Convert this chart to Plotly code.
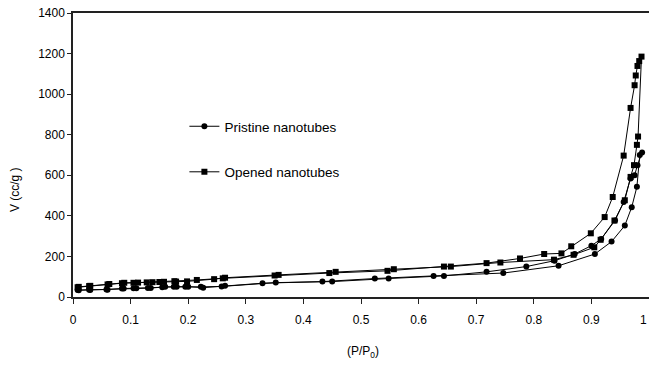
import plotly.graph_objects as go

# Opened nanotubes (squares): adsorption then desorption
opened_p = [0.010, 0.030, 0.063, 0.089, 0.113, 0.138, 0.158, 0.179, 0.198, 0.245, 0.264, 0.357,
            0.456, 0.557, 0.656, 0.742, 0.835, 0.869, 0.905, 0.916, 0.940, 0.958, 0.968, 0.974,
            0.979, 0.981, 0.987,
            0.983, 0.980, 0.977, 0.975, 0.968, 0.956, 0.937, 0.923, 0.899, 0.865, 0.848, 0.818,
            0.776, 0.718, 0.644, 0.546, 0.445, 0.350, 0.260, 0.215, 0.176, 0.150, 0.128, 0.105,
            0.085, 0.060, 0.028, 0.008]
opened_v = [50, 55, 64, 70, 71, 73, 75, 76, 77, 88, 95, 109,
            124, 137, 150, 170, 184, 208, 245, 282, 377, 477, 592, 650,
            750, 791, 1185,
            1163, 1139, 1092, 1044, 932, 697, 493, 394, 314, 250, 215, 212,
            190, 167, 150, 129, 118, 106, 92, 84, 78, 74, 72, 70,
            68, 62, 54, 48]

# Pristine nanotubes (circles): adsorption then desorption
pristine_p = [0.010, 0.030, 0.060, 0.088, 0.110, 0.135, 0.160, 0.180, 0.200, 0.226, 0.264, 0.329,
              0.433, 0.524, 0.626, 0.747, 0.843, 0.906, 0.935, 0.958, 0.970, 0.979, 0.984, 0.988,
              0.980, 0.975, 0.968, 0.956, 0.941, 0.917, 0.900, 0.871, 0.836, 0.787, 0.718, 0.644,
              0.548, 0.450, 0.352, 0.258, 0.222, 0.195, 0.175, 0.155, 0.130, 0.105, 0.085, 0.058,
              0.028, 0.008]
pristine_v = [33, 35, 36, 42, 43, 44, 50, 51, 51, 46, 55, 68,
              76, 91, 104, 118, 154, 212, 273, 352, 443, 543, 700, 712,
              650, 600, 584, 468, 377, 286, 253, 212, 179, 150, 124, 104,
              91, 76, 71, 52, 50, 51, 50, 48, 44, 43, 42, 37,
              36, 34]

x_ticks = [0, 0.1, 0.2, 0.3, 0.4, 0.5, 0.6, 0.7, 0.8, 0.9, 1]
x_ticklabels = ["0", "0.1", "0.2", "0.3", "0.4", "0.5", "0.6", "0.7", "0.8", "0.9", "1"]
y_ticks = [0, 200, 400, 600, 800, 1000, 1200, 1400]

FONT = "Liberation Sans, Arial, sans-serif"

fig = go.Figure()
fig.add_trace(go.Scatter(
    x=pristine_p, y=pristine_v, mode="lines+markers", name="Pristine nanotubes",
    line=dict(color="black", width=1),
    marker=dict(symbol="circle", size=6, color="black"),
    legendgroup="a",
))
fig.add_trace(go.Scatter(
    x=opened_p, y=opened_v, mode="lines+markers", name="Opened nanotubes",
    line=dict(color="black", width=1),
    marker=dict(symbol="square", size=6, color="black"),
    legendgroup="b",
))

# last tick label drawn separately so it is not dropped at the page edge
shown_ticktext = x_ticklabels[:-1] + [""]

fig.update_layout(
    width=649, height=377,
    margin=dict(l=73, r=0, t=13, b=80),
    paper_bgcolor="white", plot_bgcolor="white",
    font=dict(family=FONT, size=12, color="black"),
    showlegend=True,
    legend=dict(x=0.1934, y=0.655, xanchor="left", yanchor="top",
                bgcolor="rgba(0,0,0,0)", font=dict(size=13.5, family=FONT),
                tracegroupgap=25, itemwidth=30),
    xaxis=dict(range=[0, 1], tickvals=x_ticks, ticktext=shown_ticktext,
               showgrid=False, zeroline=False,
               showline=True, linecolor="#222", linewidth=1.5, mirror=True,
               ticks="outside", ticklen=5, tickcolor="#222",
               ticklabelstandoff=6),
    yaxis=dict(range=[0, 1400], tickvals=y_ticks,
               showgrid=False, zeroline=False,
               showline=True, linecolor="#222", linewidth=1.5,
               ticks="outside", ticklen=4, tickcolor="#222"),
    annotations=[
        dict(text="V (cc/g )", xref="paper", yref="paper", x=-0.1007, y=0.38,
             xanchor="center", yanchor="middle",
             showarrow=False, textangle=-90, font=dict(size=12, family=FONT)),
        dict(text="(P/P<sub>0</sub>)", xref="paper", yref="paper", x=0.503, y=-0.194,
             xanchor="center", yanchor="middle",
             showarrow=False, font=dict(size=12, family=FONT)),
        dict(text=x_ticklabels[-1], xref="x", yref="paper", x=x_ticks[-1], y=-0.081,
             xanchor="right", yanchor="middle",
             showarrow=False, font=dict(size=12, family=FONT)),
    ],
)

fig.write_html("out.html")
